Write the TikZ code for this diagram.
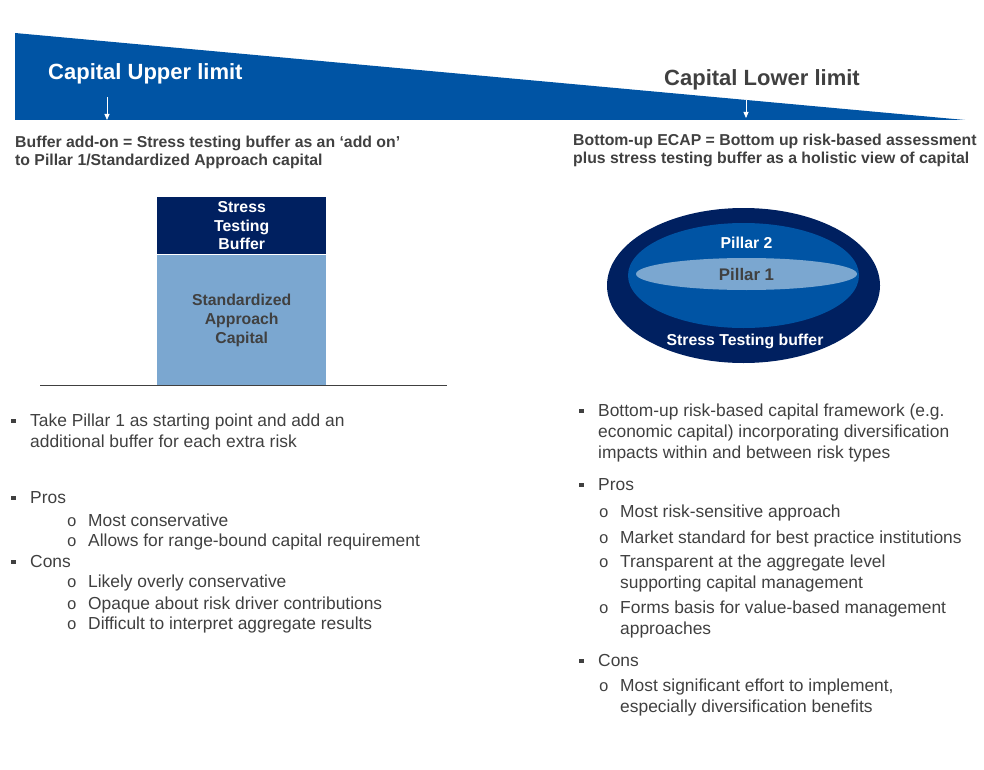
\documentclass[tikz,border=0pt]{standalone}
\usepackage{fontspec}
\setmainfont{Liberation Sans}
\setmonofont{Liberation Mono}
\usetikzlibrary{positioning}
\usetikzlibrary{shapes.geometric}
\usetikzlibrary{arrows.meta}

\definecolor{capblue}{RGB}{0,84,164}
\definecolor{navyblue}{RGB}{0,32,96}
\definecolor{paleblue}{RGB}{123,167,208}
\definecolor{txtgray}{RGB}{64,64,64}

\begin{document}
\begin{tikzpicture}[x=1pt, y=-1pt,
    every node/.style={inner sep=0pt, text=txtgray},
    limit/.style={font=\fontsize{22}{26}\selectfont\bfseries, anchor=base west},
    head/.style={font=\fontsize{15.8}{18}\selectfont\bfseries, anchor=base west, align=left},
    body/.style={font=\fontsize{17.4}{21}\selectfont, anchor=base west, align=left},
    boxtxt/.style={font=\fontsize{15.8}{19}\selectfont\bfseries, align=center},
    sqbullet/.style={fill=txtgray, minimum size=4.5pt},
    obullet/.style={font=\fontsize{16.5}{21}\ttfamily},
    downarrow/.style={white, line width=0.8pt, -{Triangle[length=6pt, width=5pt]}}
    ]
    \useasboundingbox (0,0) rectangle (984,770);

    % sloping banner
    \coordinate (tl) at (15,33);
    \coordinate (bl) at (15,120);
    \coordinate (br) at (965,120);
    \fill[capblue] (tl) -- (br) -- (bl) -- cycle;

    \node[limit, text=white] (upper) at (48,80) {Capital Upper limit};
    \node[limit] (lower) at (664,86) {Capital Lower limit};

    \coordinate (ua) at (107,97);
    \coordinate (la) at (746,100);
    \draw[downarrow] (ua) -- (ua |- bl);
    \draw[downarrow] (la) -- ([yshift=2pt]la |- bl);

    % headings (base = last line)
    \node[head] (hleft) at (15,166) {Buffer add-on = Stress testing buffer as an ‘add on’\\to Pillar 1/Standardized Approach capital};
    \node[head] (hright) at (573,164) {Bottom-up ECAP = Bottom up risk-based assessment\\plus stress testing buffer as a holistic view of capital};

    % stacked bar
    \node[fill=navyblue, minimum width=169pt, minimum height=57pt, anchor=north west, boxtxt, font=\fontsize{15.8}{18.5}\selectfont\bfseries, text=white] (stb) at (157,197) {Stress\\Testing\\Buffer};
    \node[fill=paleblue, minimum width=169pt, minimum height=131pt, below=0pt of stb, boxtxt] (sac) {Standardized\\Approach\\Capital};
    \coordinate (gl) at (40,385);
    \coordinate (gr) at (447,385);
    \draw[txtgray, line width=0.8pt] (gl) -- (gr);

    % nested ellipses
    \node[ellipse, fill=navyblue, minimum width=273pt, minimum height=155pt] (outer) at (743.5,285.5) {};
    \node[ellipse, fill=capblue, minimum width=231pt, minimum height=105pt] (middle) at (743.5,275.5) {};
    \node[ellipse, fill=paleblue, minimum width=221pt, minimum height=32pt, boxtxt, font=\fontsize{16.8}{19}\selectfont\bfseries] (inner) at (746.5,274) {Pillar 1};
    \node[boxtxt, text=white, above=31pt of inner.center, anchor=center] (p2) {Pillar 2};
    \node[boxtxt, text=white] (stbuf) at (745,341) {Stress Testing buffer};

    % left list
    \node[body] (t1) at (30,447) {Take Pillar 1 as starting point and add an\\additional buffer for each extra risk};
    \node[body] (lpros) at (30,503) {Pros};
    \node[body] (lp1) at (88,526) {Most conservative};
    \node[body] (lp2) at (88,546) {Allows for range-bound capital requirement};
    \node[body] (lcons) at (30,567) {Cons};
    \node[body] (lc1) at (88,587) {Likely overly conservative};
    \node[body] (lc2) at (88,609) {Opaque about risk driver contributions};
    \node[body] (lc3) at (88,629) {Difficult to interpret aggregate results};

    \node[sqbullet, left=14pt of t1.base west, yshift=26pt] {};
    \node[sqbullet, left=14pt of lpros.base west, yshift=5pt] {};
    \node[sqbullet, left=14pt of lcons.base west, yshift=5pt] {};
    \node[obullet, left=11pt of lp1.base west, anchor=base east] {o};
    \node[obullet, left=11pt of lp2.base west, anchor=base east] {o};
    \node[obullet, left=11pt of lc1.base west, anchor=base east] {o};
    \node[obullet, left=11pt of lc2.base west, anchor=base east] {o};
    \node[obullet, left=11pt of lc3.base west, anchor=base east] {o};

    % right list
    \node[body] (r1) at (598,458) {Bottom-up risk-based capital framework (e.g.\\economic capital) incorporating diversification\\impacts within and between risk types};
    \node[body] (rpros) at (598,490) {Pros};
    \node[body] (rp1) at (620,517) {Most risk-sensitive approach};
    \node[body] (rp2) at (620,543) {Market standard for best practice institutions};
    \node[body] (rp3) at (620,588) {Transparent at the aggregate level\\supporting capital management};
    \node[body] (rp4) at (620,634) {Forms basis for value-based management\\approaches};
    \node[body] (rcons) at (598,666) {Cons};
    \node[body] (rc1) at (620,712) {Most significant effort to implement,\\especially diversification benefits};

    \node[sqbullet, left=14pt of r1.base west, yshift=47pt] {};
    \node[sqbullet, left=14pt of rpros.base west, yshift=5pt] {};
    \node[sqbullet, left=14pt of rcons.base west, yshift=5pt] {};
    \node[obullet, left=11pt of rp1.base west, anchor=base east] {o};
    \node[obullet, left=11pt of rp2.base west, anchor=base east] {o};
    \node[obullet, left=11pt of rp3.base west, anchor=base east, yshift=21pt] {o};
    \node[obullet, left=11pt of rp4.base west, anchor=base east, yshift=21pt] {o};
    \node[obullet, left=11pt of rc1.base west, anchor=base east, yshift=21pt] {o};
\end{tikzpicture}
\end{document}
